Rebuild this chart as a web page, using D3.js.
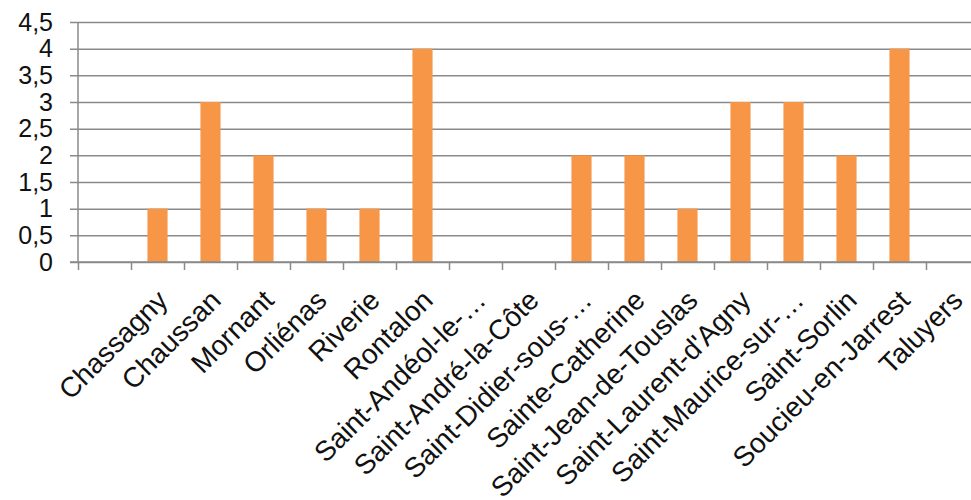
<!DOCTYPE html>
<html>
<head>
<meta charset="utf-8">
<script src="https://d3js.org/d3.v7.min.js"></script>
<style>
  body { margin: 0; background: #fff; }
  svg { display: block; font-family: "Liberation Sans", Arial, sans-serif; }
  .grid line { stroke: #8a8a8a; stroke-width: 1.5; }
  .grid .domain { display: none; }
  .xax line, .xax .domain { stroke: #8a8a8a; stroke-width: 1.5; }
</style>
</head>
<body>
<svg width="971" height="500"></svg>
<script>
// communes (first slot is blank in the source sheet)
var communes = ["", "Chassagny", "Chaussan", "Mornant", "Orliénas", "Riverie", "Rontalon",
  "Saint-Andéol-le-…", "Saint-André-la-Côte", "Saint-Didier-sous-…", "Sainte-Catherine",
  "Saint-Jean-de-Touslas", "Saint-Laurent-d'Agny", "Saint-Maurice-sur-…", "Saint-Sorlin",
  "Soucieu-en-Jarrest", "Taluyers"];
var valeurs = [0, 1, 3, 2, 1, 1, 4, 0, 0, 2, 2, 1, 3, 3, 2, 4, 0];
var yTicks = [0, 0.5, 1, 1.5, 2, 2.5, 3, 3.5, 4, 4.5];

var svg = d3.select("svg");
var mLeft = 78, mTop = 22, mBottom = 262, step = 53;
var mRight = mLeft + communes.length * step;

var fr = d3.formatLocale({decimal: ",", thousands: " ", grouping: [3], currency: ["", "€"]});
var fmt = fr.format("");

var x = d3.scaleBand().domain(d3.range(communes.length)).range([mLeft, mRight]);
var xb = d3.scaleLinear().domain([0, communes.length]).range([mLeft, mRight]);
var y = d3.scaleLinear().domain([0, 4.5]).range([mBottom, mTop]);

// gridlines + y labels
var g = svg.append("g").attr("class", "grid").attr("transform", "translate(" + mLeft + ",0)")
  .call(d3.axisLeft(y).tickValues(yTicks).tickFormat(fmt).tickSize(-(971 - mLeft)).tickPadding(25));
g.selectAll(".tick line").attr("x1", -8);
g.selectAll(".tick text").attr("font-size", 25).attr("fill", "#111")
  .attr("font-family", "Liberation Sans, Arial, sans-serif");

// y axis line
svg.append("line").attr("x1", mLeft).attr("x2", mLeft).attr("y1", mTop).attr("y2", mBottom)
  .attr("stroke", "#8a8a8a").attr("stroke-width", 1.5);

// bars
svg.append("g").selectAll("rect").data(valeurs).enter().append("rect")
  .attr("x", function(d, i) { return x(i) + x.bandwidth() * 0.31; })
  .attr("width", x.bandwidth() * 0.38)
  .attr("y", function(d) { return y(d); })
  .attr("height", function(d) { return mBottom - y(d); })
  .attr("fill", "#f79646");

// x axis with boundary ticks
var xa = svg.append("g").attr("class", "xax").attr("transform", "translate(0," + mBottom + ")")
  .call(d3.axisBottom(xb).tickValues(d3.range(communes.length + 1)).tickFormat("").tickSize(8).tickSizeOuter(0));
xa.select(".domain").attr("d", "M" + (mLeft - 8) + ",0H" + mRight);

// rotated labels
svg.append("g").selectAll("text").data(communes).enter().append("text")
  .attr("transform", function(d, i) {
    return "translate(" + (x(i) + x.bandwidth() / 2 + 12) + "," + 302 + ") rotate(-45)";
  })
  .attr("text-anchor", "end")
  .attr("font-size", 28)
  .attr("fill", "#111")
  .text(function(d) { return d; });
</script>
</body>
</html>
